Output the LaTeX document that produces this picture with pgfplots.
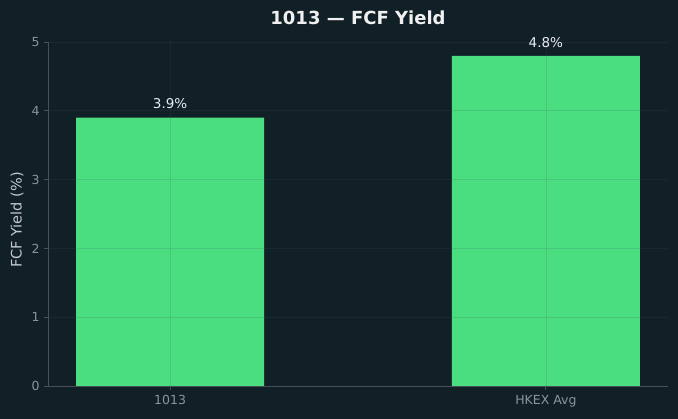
\documentclass[border=0pt]{standalone}
\usepackage{pgfplots}
\pgfplotsset{compat=1.18}
\usepackage{fontspec}
\setmainfont{DejaVu Sans}

\definecolor{bgdark}{HTML}{111F27}
\definecolor{barGreen}{HTML}{4ADE80}
\definecolor{gridcol}{HTML}{4B5563}
\definecolor{spinecol}{HTML}{474F57}
\definecolor{tickcol}{HTML}{8B949E}
\definecolor{titlecol}{HTML}{F0F0F0}
\definecolor{labelcol}{HTML}{C3C9CF}
\definecolor{valcol}{HTML}{E6EDF3}

\begin{document}
\begin{tikzpicture}
% dark canvas
\fill[bgdark] (-48pt,-33pt) rectangle (630pt,386pt);
\useasboundingbox (-48pt,-33pt) rectangle (630pt,386pt);

\begin{axis}[
  at={(0pt,0pt)}, anchor=south west,
  scale only axis,
  width=620pt, height=344pt,
  xmin=-0.325, xmax=1.325,
  ymin=0, ymax=5,
  xtick={0,1},
  xticklabels={1013, HKEX Avg},
  ytick={0,1,2,3,4,5},
  axis x line*=bottom,
  axis y line*=left,
  axis line style={spinecol, line width=0.8pt, -},
  tick align=outside,
  major tick length=4pt,
  tick style={spinecol, line width=0.8pt},
  ticklabel style={font=\fontsize{12.5}{15}\selectfont, text=tickcol},
  /pgf/number format/assume math mode=true,
  xticklabel style={yshift=-2pt},
  yticklabel style={xshift=-1pt},
  grid=major,
  major grid style={gridcol, opacity=0.17, line width=0.6pt},
  axis on top,
]
\addplot[ybar, bar width=0.5, fill=barGreen, draw=none,
  nodes near coords={\pgfmathprintnumber[fixed, precision=1, fixed zerofill]{\pgfplotspointmeta}\%},
  nodes near coords style={font=\fontsize{13.5}{16}\selectfont, text=valcol, anchor=base, inner sep=0pt, yshift=8.7pt},
  point meta=explicit]
  coordinates {(0,3.9) [3.9] (1,4.8) [4.8]};
\end{axis}

\node[font=\bfseries\fontsize{18}{21}\selectfont, text=titlecol] at (310pt,368pt) {1013 — FCF Yield};
\node[rotate=90, font=\fontsize{14.5}{17}\selectfont, text=labelcol] at (-31pt,166pt) {FCF Yield (\%)};
\end{tikzpicture}
\end{document}
